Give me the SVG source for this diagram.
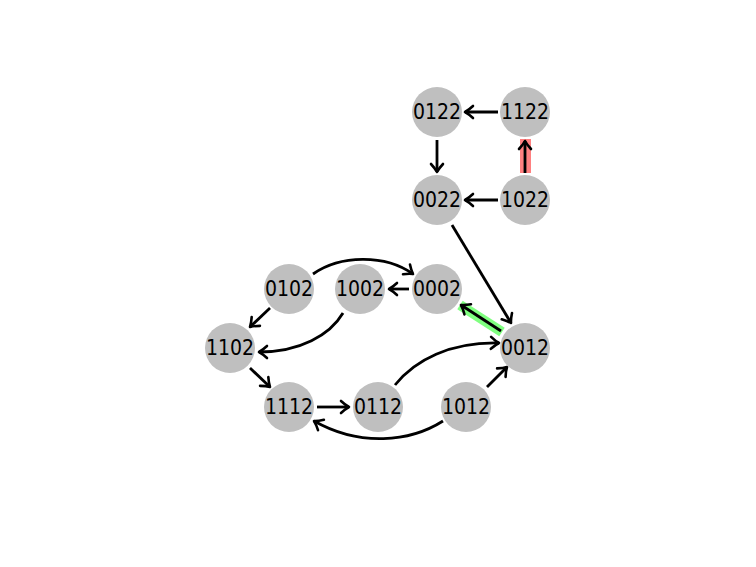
<svg xmlns="http://www.w3.org/2000/svg" width="756" height="567" viewBox="0 0 756 567">
<style>
.node circle{fill:#bfbfbf;}
.node text{font-family:"DejaVu Sans Condensed","DejaVu Sans","Liberation Sans",sans-serif;font-stretch:condensed;font-size:21px;fill:#000;text-anchor:middle;dominant-baseline:central;}
.edge{fill:none;stroke:#000;stroke-width:2.8;marker-end:url(#arr);}
</style>
<defs>
<marker id="arr" markerUnits="userSpaceOnUse" markerWidth="16" markerHeight="16" viewBox="-12 -8 14 16" refX="0" refY="0" orient="auto">
<path d="M-8,-6 Q-3.5,-1.8 0,0 Q-3.5,1.8 -8,6" fill="none" stroke="#000" stroke-width="2.6" stroke-linecap="round" stroke-linejoin="round"/>
</marker>
</defs>
<rect width="756" height="567" fill="#fff"/>
<g id="highlights">
<rect x="520" y="139" width="11" height="34" fill="#ff8080"/>
<line x1="460" y1="305" x2="502" y2="332" stroke="#80ff80" stroke-width="10"/>
</g>
<g id="connectors">
<path class="edge" d="M498,112 L465,112"/>
<path class="edge" d="M437,140 L437,172"/>
<path class="edge" d="M498,200 L465,200"/>
<path class="edge" d="M525,173 L525,141"/>
<path class="edge" d="M452,225 L511,323"/>
<path class="edge" d="M501,331 L461,305"/>
<path class="edge" d="M409,289 L389,289"/>
<path class="edge" d="M313,274 C340,255 385,254 413,274"/>
<path class="edge" d="M270,308 L250,327"/>
<path class="edge" d="M343,313 C330,335 300,352 259,352"/>
<path class="edge" d="M250,368 L270,387"/>
<path class="edge" d="M317,407 L349,407"/>
<path class="edge" d="M395,385 C415,360 450,342 499,343"/>
<path class="edge" d="M487,387 L507,367"/>
<path class="edge" d="M443,421 C410,442 360,447 314,421"/>
</g>
<g id="n0122" class="node"><circle cx="437" cy="112" r="25"/><text x="437" y="112">0122</text></g>
<g id="n1122" class="node"><circle cx="525" cy="112" r="25"/><text x="525" y="112">1122</text></g>
<g id="n0022" class="node"><circle cx="437" cy="200" r="25"/><text x="437" y="200">0022</text></g>
<g id="n1022" class="node"><circle cx="525" cy="200" r="25"/><text x="525" y="200">1022</text></g>
<g id="n0102" class="node"><circle cx="289" cy="289" r="25"/><text x="289" y="289">0102</text></g>
<g id="n1002" class="node"><circle cx="360" cy="289" r="25"/><text x="360" y="289">1002</text></g>
<g id="n0002" class="node"><circle cx="437" cy="289" r="25"/><text x="437" y="289">0002</text></g>
<g id="n1102" class="node"><circle cx="230" cy="348" r="25"/><text x="230" y="348">1102</text></g>
<g id="n0012" class="node"><circle cx="525" cy="348" r="25"/><text x="525" y="348">0012</text></g>
<g id="n1112" class="node"><circle cx="289" cy="407" r="25"/><text x="289" y="407">1112</text></g>
<g id="n0112" class="node"><circle cx="378" cy="407" r="25"/><text x="378" y="407">0112</text></g>
<g id="n1012" class="node"><circle cx="466" cy="407" r="25"/><text x="466" y="407">1012</text></g>
</svg>
